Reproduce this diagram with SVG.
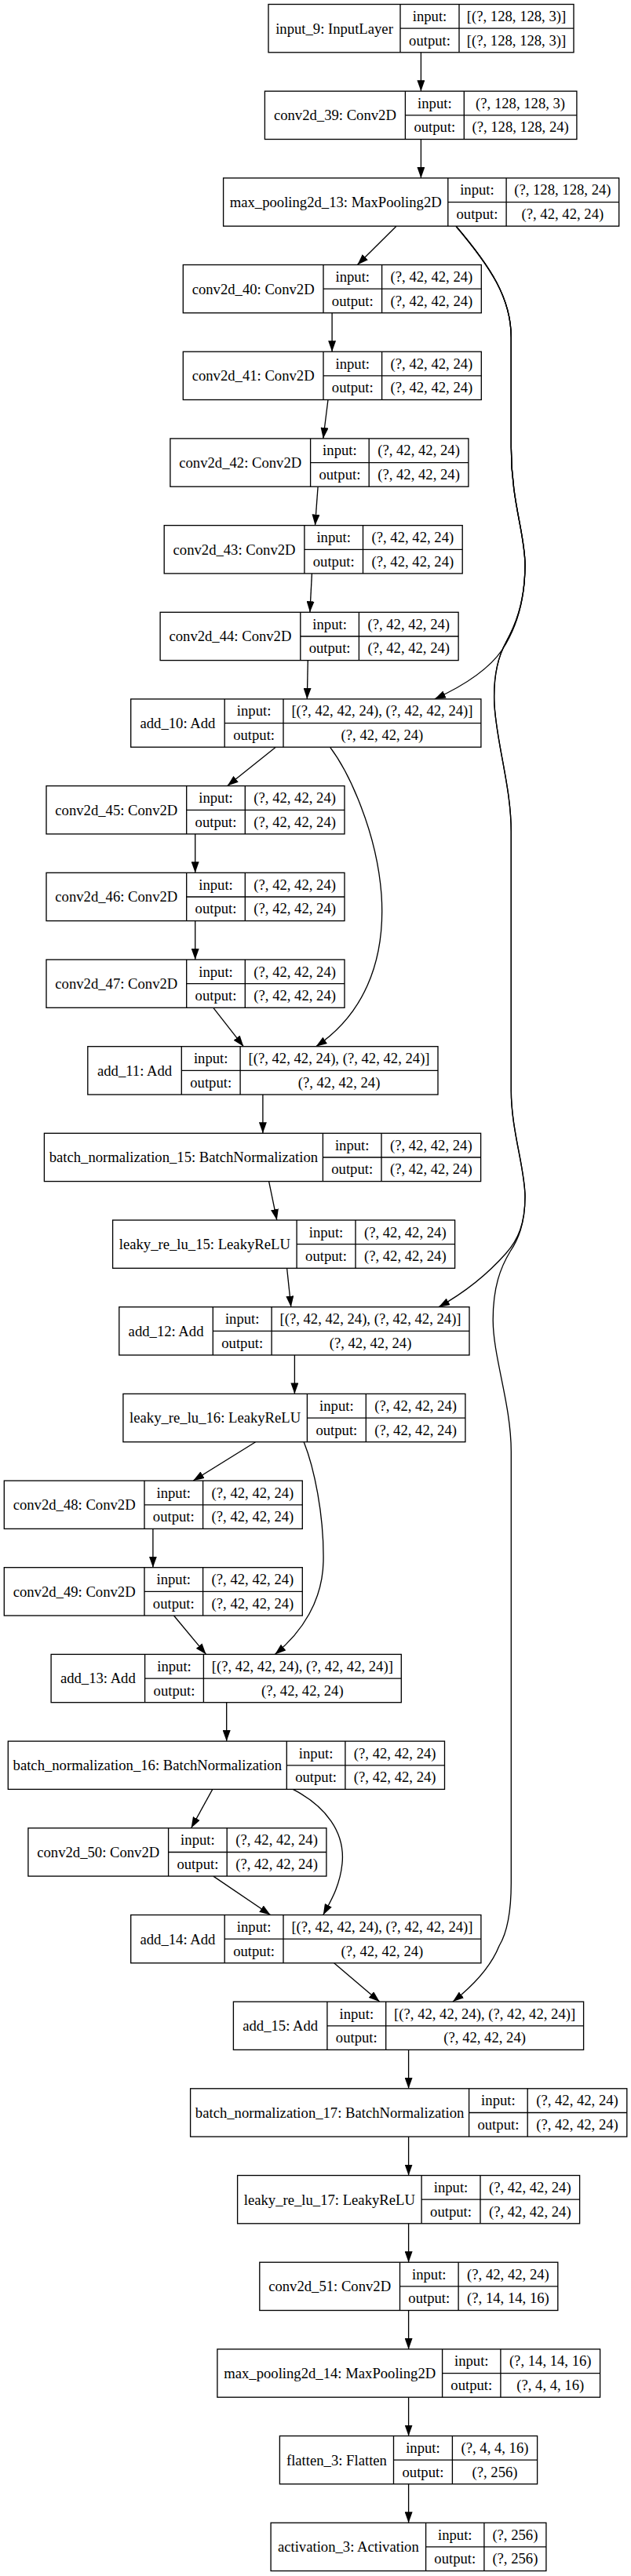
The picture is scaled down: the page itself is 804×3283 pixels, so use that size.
<svg xmlns="http://www.w3.org/2000/svg" width="804" height="3283" viewBox="0 0 804 3283">
<style>
.b{fill:#fff;stroke:#000;stroke-width:1.33}
.l{fill:none;stroke:#000;stroke-width:1.33}
.t{font-family:"Liberation Serif","Times New Roman",serif;font-size:18.67px;text-anchor:middle;fill:#000}
.e{fill:none;stroke:#000;stroke-width:1.33;marker-end:url(#arr)}
</style>
<defs>
<marker id="arr" viewBox="0 0 14 10" refX="14" refY="5" markerWidth="14" markerHeight="10" markerUnits="userSpaceOnUse" orient="auto"><path d="M0,0 L14,5 L0,10 Z" fill="#000"/></marker>
</defs>
<rect width="804" height="3283" fill="#fff"/>
<g id="connectors">
<path class="e" d="M536.4,66.8 L536.4,116.2"/>
<path class="e" d="M536.4,177.5 L536.4,226.9"/>
<path class="e" d="M505,288.2 L455.4,337.5"/>
<path class="e" d="M423.1,398.8 L423.1,448.2"/>
<path class="e" d="M418,509.5 L411.8,558.9"/>
<path class="e" d="M405.1,620.2 L401.5,669.6"/>
<path class="e" d="M397.4,730.9 L394.9,780.3"/>
<path class="e" d="M392.3,841.6 L391.3,890.9"/>
<path class="e" d="M351.3,952.2 L289.7,1001.6"/>
<path class="e" d="M248.7,1062.9 L248.7,1112.3"/>
<path class="e" d="M248.7,1173.6 L248.7,1223"/>
<path class="e" d="M271.8,1284.3 L310.3,1333.7"/>
<path class="e" d="M334.9,1395 L334.9,1444.3"/>
<path class="e" d="M342.6,1505.6 L352.8,1555"/>
<path class="e" d="M365.6,1616.3 L370.8,1665.7"/>
<path class="e" d="M375.4,1727 L375.4,1776.4"/>
<path class="e" d="M325.6,1837.7 L246.2,1887.1"/>
<path class="e" d="M194.9,1948.4 L194.9,1997.7"/>
<path class="e" d="M221.5,2059 L262.6,2108.4"/>
<path class="e" d="M288.7,2169.7 L288.7,2219.1"/>
<path class="e" d="M270.8,2280.4 L243.6,2329.8"/>
<path class="e" d="M271.8,2391.1 L344.6,2440.5"/>
<path class="e" d="M425.6,2501.8 L483.6,2551.1"/>
<path class="e" d="M520.6,2612.4 L520.6,2661.8"/>
<path class="e" d="M520.6,2723.1 L520.6,2772.5"/>
<path class="e" d="M520.6,2833.8 L520.6,2883.2"/>
<path class="e" d="M520.6,2944.5 L520.6,2993.9"/>
<path class="e" d="M520.6,3055.2 L520.6,3104.5"/>
<path class="e" d="M520.6,3165.8 L520.6,3215.2"/>
<path class="e" d="M420.5,952.2 C445,985 480,1060 486,1140 C492,1230 460,1295 402.6,1333.7"/>
<path class="e" d="M387.2,1837.7 C400,1870 413,1930 412,1990 C411,2040 385,2080 350.3,2108.4"/>
<path class="e" d="M373.3,2280.4 C415,2302 440,2335 436,2375 C433,2405 420,2425 411.8,2440.5"/>
<path class="e" d="M581,288.2 C625,340 651.3,380 651.3,430 L651.3,570 C651.3,640 669,680 669,720 C669,770 655,805 640,828 C625,850 595,872 553.8,890.9"/>
<path class="e" d="M581,288.2 C625,340 651.3,380 651.3,430 L651.3,570 C651.3,640 669,680 669,720 C669,770 655,800 645,818 C635,836 629,860 629.7,892 C630.5,940 651.3,1000 651.3,1060 L651.3,1390 C651.3,1440 669,1490 669,1525 C669,1560 660,1580 645,1597 C630,1614 605,1640 559,1665.7"/>
<path class="e" d="M581,288.2 C625,340 651.3,380 651.3,430 L651.3,570 C651.3,640 669,680 669,720 C669,770 655,800 645,818 C635,836 629,860 629.7,892 C630.5,940 651.3,1000 651.3,1060 L651.3,1390 C651.3,1440 669,1490 669,1525 C669,1560 660,1580 650,1595 C638,1615 628,1640 628.2,1683 C628.5,1730 651.3,1790 651.3,1850 L651.3,2400 C651.3,2440 645,2465 636,2480 C628,2500 610,2525 577,2551.1"/>
</g>
<g id="input_9" transform="translate(342,5.5)"><rect class="b" width="389" height="61.3"/><path class="l" d="M168,0V61.3M243,0V61.3M168,30.7H389"/><text class="t" x="84" y="37">input_9: InputLayer</text><text class="t" x="205.5" y="21.5">input:</text><text class="t" x="316" y="21.5">[(?, 128, 128, 3)]</text><text class="t" x="205.5" y="52.2">output:</text><text class="t" x="316" y="52.2">[(?, 128, 128, 3)]</text></g>
<g id="conv2d_39" transform="translate(337.4,116.2)"><rect class="b" width="397.5" height="61.3"/><path class="l" d="M179,0V61.3M253.9,0V61.3M179,30.7H397.5"/><text class="t" x="89.5" y="37">conv2d_39: Conv2D</text><text class="t" x="216.45" y="21.5">input:</text><text class="t" x="325.7" y="21.5">(?, 128, 128, 3)</text><text class="t" x="216.45" y="52.2">output:</text><text class="t" x="325.7" y="52.2">(?, 128, 128, 24)</text></g>
<g id="max_pooling2d_13" transform="translate(284.6,226.9)"><rect class="b" width="504.1" height="61.3"/><path class="l" d="M286.2,0V61.3M360.5,0V61.3M286.2,30.7H504.1"/><text class="t" x="143.1" y="37">max_pooling2d_13: MaxPooling2D</text><text class="t" x="323.35" y="21.5">input:</text><text class="t" x="432.3" y="21.5">(?, 128, 128, 24)</text><text class="t" x="323.35" y="52.2">output:</text><text class="t" x="432.3" y="52.2">(?, 42, 42, 24)</text></g>
<g id="conv2d_40" transform="translate(233.3,337.5)"><rect class="b" width="380" height="61.3"/><path class="l" d="M178.7,0V61.3M253.3,0V61.3M178.7,30.7H380"/><text class="t" x="89.35" y="37">conv2d_40: Conv2D</text><text class="t" x="216" y="21.5">input:</text><text class="t" x="316.65" y="21.5">(?, 42, 42, 24)</text><text class="t" x="216" y="52.2">output:</text><text class="t" x="316.65" y="52.2">(?, 42, 42, 24)</text></g>
<g id="conv2d_41" transform="translate(233.3,448.2)"><rect class="b" width="380" height="61.3"/><path class="l" d="M178.7,0V61.3M253.3,0V61.3M178.7,30.7H380"/><text class="t" x="89.35" y="37">conv2d_41: Conv2D</text><text class="t" x="216" y="21.5">input:</text><text class="t" x="316.65" y="21.5">(?, 42, 42, 24)</text><text class="t" x="216" y="52.2">output:</text><text class="t" x="316.65" y="52.2">(?, 42, 42, 24)</text></g>
<g id="conv2d_42" transform="translate(216.9,558.9)"><rect class="b" width="380" height="61.3"/><path class="l" d="M178.7,0V61.3M253.3,0V61.3M178.7,30.7H380"/><text class="t" x="89.35" y="37">conv2d_42: Conv2D</text><text class="t" x="216" y="21.5">input:</text><text class="t" x="316.65" y="21.5">(?, 42, 42, 24)</text><text class="t" x="216" y="52.2">output:</text><text class="t" x="316.65" y="52.2">(?, 42, 42, 24)</text></g>
<g id="conv2d_43" transform="translate(209.2,669.6)"><rect class="b" width="380" height="61.3"/><path class="l" d="M178.7,0V61.3M253.3,0V61.3M178.7,30.7H380"/><text class="t" x="89.35" y="37">conv2d_43: Conv2D</text><text class="t" x="216" y="21.5">input:</text><text class="t" x="316.65" y="21.5">(?, 42, 42, 24)</text><text class="t" x="216" y="52.2">output:</text><text class="t" x="316.65" y="52.2">(?, 42, 42, 24)</text></g>
<g id="conv2d_44" transform="translate(204.1,780.3)"><rect class="b" width="380" height="61.3"/><path class="l" d="M178.7,0V61.3M253.3,0V61.3M178.7,30.7H380"/><text class="t" x="89.35" y="37">conv2d_44: Conv2D</text><text class="t" x="216" y="21.5">input:</text><text class="t" x="316.65" y="21.5">(?, 42, 42, 24)</text><text class="t" x="216" y="52.2">output:</text><text class="t" x="316.65" y="52.2">(?, 42, 42, 24)</text></g>
<g id="add_10" transform="translate(166.7,890.9)"><rect class="b" width="446.2" height="61.3"/><path class="l" d="M119.5,0V61.3M194.3,0V61.3M119.5,30.7H446.2"/><text class="t" x="59.75" y="37">add_10: Add</text><text class="t" x="156.9" y="21.5">input:</text><text class="t" x="320.25" y="21.5">[(?, 42, 42, 24), (?, 42, 42, 24)]</text><text class="t" x="156.9" y="52.2">output:</text><text class="t" x="320.25" y="52.2">(?, 42, 42, 24)</text></g>
<g id="conv2d_45" transform="translate(59,1001.6)"><rect class="b" width="380" height="61.3"/><path class="l" d="M178.7,0V61.3M253.3,0V61.3M178.7,30.7H380"/><text class="t" x="89.35" y="37">conv2d_45: Conv2D</text><text class="t" x="216" y="21.5">input:</text><text class="t" x="316.65" y="21.5">(?, 42, 42, 24)</text><text class="t" x="216" y="52.2">output:</text><text class="t" x="316.65" y="52.2">(?, 42, 42, 24)</text></g>
<g id="conv2d_46" transform="translate(59,1112.3)"><rect class="b" width="380" height="61.3"/><path class="l" d="M178.7,0V61.3M253.3,0V61.3M178.7,30.7H380"/><text class="t" x="89.35" y="37">conv2d_46: Conv2D</text><text class="t" x="216" y="21.5">input:</text><text class="t" x="316.65" y="21.5">(?, 42, 42, 24)</text><text class="t" x="216" y="52.2">output:</text><text class="t" x="316.65" y="52.2">(?, 42, 42, 24)</text></g>
<g id="conv2d_47" transform="translate(59,1223)"><rect class="b" width="380" height="61.3"/><path class="l" d="M178.7,0V61.3M253.3,0V61.3M178.7,30.7H380"/><text class="t" x="89.35" y="37">conv2d_47: Conv2D</text><text class="t" x="216" y="21.5">input:</text><text class="t" x="316.65" y="21.5">(?, 42, 42, 24)</text><text class="t" x="216" y="52.2">output:</text><text class="t" x="316.65" y="52.2">(?, 42, 42, 24)</text></g>
<g id="add_11" transform="translate(111.8,1333.7)"><rect class="b" width="446.2" height="61.3"/><path class="l" d="M119.5,0V61.3M194.3,0V61.3M119.5,30.7H446.2"/><text class="t" x="59.75" y="37">add_11: Add</text><text class="t" x="156.9" y="21.5">input:</text><text class="t" x="320.25" y="21.5">[(?, 42, 42, 24), (?, 42, 42, 24)]</text><text class="t" x="156.9" y="52.2">output:</text><text class="t" x="320.25" y="52.2">(?, 42, 42, 24)</text></g>
<g id="batch_normalization_15" transform="translate(56.4,1444.3)"><rect class="b" width="556.2" height="61.3"/><path class="l" d="M355,0V61.3M429.6,0V61.3M355,30.7H556.2"/><text class="t" x="177.5" y="37">batch_normalization_15: BatchNormalization</text><text class="t" x="392.3" y="21.5">input:</text><text class="t" x="492.9" y="21.5">(?, 42, 42, 24)</text><text class="t" x="392.3" y="52.2">output:</text><text class="t" x="492.9" y="52.2">(?, 42, 42, 24)</text></g>
<g id="leaky_re_lu_15" transform="translate(143.6,1555)"><rect class="b" width="436" height="61.3"/><path class="l" d="M234.5,0V61.3M309.4,0V61.3M234.5,30.7H436"/><text class="t" x="117.25" y="37">leaky_re_lu_15: LeakyReLU</text><text class="t" x="271.95" y="21.5">input:</text><text class="t" x="372.7" y="21.5">(?, 42, 42, 24)</text><text class="t" x="271.95" y="52.2">output:</text><text class="t" x="372.7" y="52.2">(?, 42, 42, 24)</text></g>
<g id="add_12" transform="translate(151.8,1665.7)"><rect class="b" width="446.2" height="61.3"/><path class="l" d="M119.5,0V61.3M194.3,0V61.3M119.5,30.7H446.2"/><text class="t" x="59.75" y="37">add_12: Add</text><text class="t" x="156.9" y="21.5">input:</text><text class="t" x="320.25" y="21.5">[(?, 42, 42, 24), (?, 42, 42, 24)]</text><text class="t" x="156.9" y="52.2">output:</text><text class="t" x="320.25" y="52.2">(?, 42, 42, 24)</text></g>
<g id="leaky_re_lu_16" transform="translate(156.9,1776.4)"><rect class="b" width="436" height="61.3"/><path class="l" d="M234.5,0V61.3M309.4,0V61.3M234.5,30.7H436"/><text class="t" x="117.25" y="37">leaky_re_lu_16: LeakyReLU</text><text class="t" x="271.95" y="21.5">input:</text><text class="t" x="372.7" y="21.5">(?, 42, 42, 24)</text><text class="t" x="271.95" y="52.2">output:</text><text class="t" x="372.7" y="52.2">(?, 42, 42, 24)</text></g>
<g id="conv2d_48" transform="translate(5.3,1887.1)"><rect class="b" width="380" height="61.3"/><path class="l" d="M178.7,0V61.3M253.3,0V61.3M178.7,30.7H380"/><text class="t" x="89.35" y="37">conv2d_48: Conv2D</text><text class="t" x="216" y="21.5">input:</text><text class="t" x="316.65" y="21.5">(?, 42, 42, 24)</text><text class="t" x="216" y="52.2">output:</text><text class="t" x="316.65" y="52.2">(?, 42, 42, 24)</text></g>
<g id="conv2d_49" transform="translate(5.3,1997.7)"><rect class="b" width="380" height="61.3"/><path class="l" d="M178.7,0V61.3M253.3,0V61.3M178.7,30.7H380"/><text class="t" x="89.35" y="37">conv2d_49: Conv2D</text><text class="t" x="216" y="21.5">input:</text><text class="t" x="316.65" y="21.5">(?, 42, 42, 24)</text><text class="t" x="216" y="52.2">output:</text><text class="t" x="316.65" y="52.2">(?, 42, 42, 24)</text></g>
<g id="add_13" transform="translate(65.1,2108.4)"><rect class="b" width="446.2" height="61.3"/><path class="l" d="M119.5,0V61.3M194.3,0V61.3M119.5,30.7H446.2"/><text class="t" x="59.75" y="37">add_13: Add</text><text class="t" x="156.9" y="21.5">input:</text><text class="t" x="320.25" y="21.5">[(?, 42, 42, 24), (?, 42, 42, 24)]</text><text class="t" x="156.9" y="52.2">output:</text><text class="t" x="320.25" y="52.2">(?, 42, 42, 24)</text></g>
<g id="batch_normalization_16" transform="translate(10.3,2219.1)"><rect class="b" width="556.2" height="61.3"/><path class="l" d="M355,0V61.3M429.6,0V61.3M355,30.7H556.2"/><text class="t" x="177.5" y="37">batch_normalization_16: BatchNormalization</text><text class="t" x="392.3" y="21.5">input:</text><text class="t" x="492.9" y="21.5">(?, 42, 42, 24)</text><text class="t" x="392.3" y="52.2">output:</text><text class="t" x="492.9" y="52.2">(?, 42, 42, 24)</text></g>
<g id="conv2d_50" transform="translate(35.9,2329.8)"><rect class="b" width="380" height="61.3"/><path class="l" d="M178.7,0V61.3M253.3,0V61.3M178.7,30.7H380"/><text class="t" x="89.35" y="37">conv2d_50: Conv2D</text><text class="t" x="216" y="21.5">input:</text><text class="t" x="316.65" y="21.5">(?, 42, 42, 24)</text><text class="t" x="216" y="52.2">output:</text><text class="t" x="316.65" y="52.2">(?, 42, 42, 24)</text></g>
<g id="add_14" transform="translate(166.7,2440.5)"><rect class="b" width="446.2" height="61.3"/><path class="l" d="M119.5,0V61.3M194.3,0V61.3M119.5,30.7H446.2"/><text class="t" x="59.75" y="37">add_14: Add</text><text class="t" x="156.9" y="21.5">input:</text><text class="t" x="320.25" y="21.5">[(?, 42, 42, 24), (?, 42, 42, 24)]</text><text class="t" x="156.9" y="52.2">output:</text><text class="t" x="320.25" y="52.2">(?, 42, 42, 24)</text></g>
<g id="add_15" transform="translate(297.4,2551.1)"><rect class="b" width="446.2" height="61.3"/><path class="l" d="M119.5,0V61.3M194.3,0V61.3M119.5,30.7H446.2"/><text class="t" x="59.75" y="37">add_15: Add</text><text class="t" x="156.9" y="21.5">input:</text><text class="t" x="320.25" y="21.5">[(?, 42, 42, 24), (?, 42, 42, 24)]</text><text class="t" x="156.9" y="52.2">output:</text><text class="t" x="320.25" y="52.2">(?, 42, 42, 24)</text></g>
<g id="batch_normalization_17" transform="translate(242.6,2661.8)"><rect class="b" width="556.2" height="61.3"/><path class="l" d="M355,0V61.3M429.6,0V61.3M355,30.7H556.2"/><text class="t" x="177.5" y="37">batch_normalization_17: BatchNormalization</text><text class="t" x="392.3" y="21.5">input:</text><text class="t" x="492.9" y="21.5">(?, 42, 42, 24)</text><text class="t" x="392.3" y="52.2">output:</text><text class="t" x="492.9" y="52.2">(?, 42, 42, 24)</text></g>
<g id="leaky_re_lu_17" transform="translate(302.6,2772.5)"><rect class="b" width="436" height="61.3"/><path class="l" d="M234.5,0V61.3M309.4,0V61.3M234.5,30.7H436"/><text class="t" x="117.25" y="37">leaky_re_lu_17: LeakyReLU</text><text class="t" x="271.95" y="21.5">input:</text><text class="t" x="372.7" y="21.5">(?, 42, 42, 24)</text><text class="t" x="271.95" y="52.2">output:</text><text class="t" x="372.7" y="52.2">(?, 42, 42, 24)</text></g>
<g id="conv2d_51" transform="translate(330.8,2883.2)"><rect class="b" width="380" height="61.3"/><path class="l" d="M178.7,0V61.3M253.3,0V61.3M178.7,30.7H380"/><text class="t" x="89.35" y="37">conv2d_51: Conv2D</text><text class="t" x="216" y="21.5">input:</text><text class="t" x="316.65" y="21.5">(?, 42, 42, 24)</text><text class="t" x="216" y="52.2">output:</text><text class="t" x="316.65" y="52.2">(?, 14, 14, 16)</text></g>
<g id="max_pooling2d_14" transform="translate(276.9,2993.9)"><rect class="b" width="487.7" height="61.3"/><path class="l" d="M286.7,0V61.3M361,0V61.3M286.7,30.7H487.7"/><text class="t" x="143.35" y="37">max_pooling2d_14: MaxPooling2D</text><text class="t" x="323.85" y="21.5">input:</text><text class="t" x="424.35" y="21.5">(?, 14, 14, 16)</text><text class="t" x="323.85" y="52.2">output:</text><text class="t" x="424.35" y="52.2">(?, 4, 4, 16)</text></g>
<g id="flatten_3" transform="translate(356.4,3104.5)"><rect class="b" width="328.2" height="61.3"/><path class="l" d="M145.1,0V61.3M220,0V61.3M145.1,30.7H328.2"/><text class="t" x="72.55" y="37">flatten_3: Flatten</text><text class="t" x="182.55" y="21.5">input:</text><text class="t" x="274.1" y="21.5">(?, 4, 4, 16)</text><text class="t" x="182.55" y="52.2">output:</text><text class="t" x="274.1" y="52.2">(?, 256)</text></g>
<g id="activation_3" transform="translate(345.1,3215.2)"><rect class="b" width="350.8" height="61.3"/><path class="l" d="M197.5,0V61.3M271.8,0V61.3M197.5,30.7H350.8"/><text class="t" x="98.75" y="37">activation_3: Activation</text><text class="t" x="234.65" y="21.5">input:</text><text class="t" x="311.3" y="21.5">(?, 256)</text><text class="t" x="234.65" y="52.2">output:</text><text class="t" x="311.3" y="52.2">(?, 256)</text></g>
</svg>
